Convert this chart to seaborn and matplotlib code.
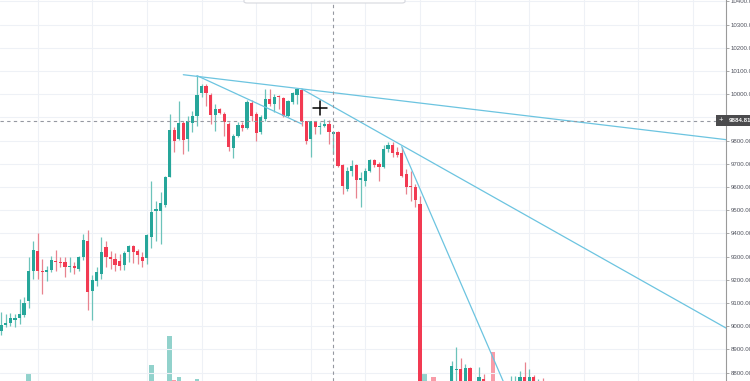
import matplotlib
matplotlib.use("Agg")
import numpy as np
import pandas as pd
import matplotlib.pyplot as plt
import seaborn as sns
from matplotlib.patches import Rectangle, FancyBboxPatch
from matplotlib.lines import Line2D

# -------------------------------------------------------
# Data (one candle per slot)
# None = candle sits fully below the visible price range
# -------------------------------------------------------
opens = [8981, 9006, 9014, 9027, 9035, 9050, 9107, 9236, 9326, 9239,
         9232, 9242, 9283, 9278, 9278, 9254, 9259, 9245, 9297, 9369,
         9153, 9196, 9225, 9340, 9297, 9288, 9281, 9265, 9318, 9346,
         9326, 9300, 9294, 9383, 9495, 9498, 9524, 9645, 9847, 9807,
         9878, 9807, 9878, 9908, 10004, 10036, 9998, 9911, 9936, 9915,
         9872, 9768, 9822, 9869, 9855, 9963, 9915, 9839, 9894, 9980,
         9958, 9994, 9984, 9908, 9965, 9998, 10020, 9883, 9807, 9879,
         9858, 9865, 9872, 9829, 9836, 9697, 9592, 9671, 9697, 9630,
         9628, 9671, 9717, 9700, 9685, 9764, 9781, 9750, 9745, 9656,
         9606, 9602, 9527, None, None, None, None, None, None, 8740,
         8813, 8815, 8740, 8822, None, 8740, 8772, None, None, None,
         None, None, 8700, 8700, 8740, 8782, 8740, 8782, 8740, 8750]
highs = [9060, 9052, 9057, 9052, 9117, 9124, 9297, 9366, 9400, 9290,
         9261, 9304, 9329, 9297, 9297, 9297, 9275, 9304, 9398, 9415,
         9222, 9257, 9383, 9366, 9323, 9317, 9311, 9326, 9350, 9348,
         9333, 9318, 9398, 9628, 9541, 9577, 9649, 9915, 9857, 9972,
         9886, 9908, 9929, 10080, 10046, 10046, 10004, 9958, 9940, 9922,
         9879, 9829, 9879, 9879, 9975, 9973, 9922, 9912, 10023, 10023,
         10001, 9998, 9987, 9975, 10009, 10027, 10023, 9886, 9886, 9886,
         9879, 9894, 9889, 9843, 9843, 9700, 9685, 9717, 9700, 9664,
         9682, 9721, 9721, 9707, 9779, 9793, 9793, 9771, 9774, 9678,
         9671, 9613, 9563, None, None, None, None, None, None, 8851,
         8912, 8863, 8837, 8826, None, 8825, 8794, None, None, None,
         None, None, 8786, 8786, 8805, 8844, 8815, 8790, 8772, 8776]
lows = [8963, 8998, 9002, 8998, 9009, 9038, 9078, 9203, 9203, 9139,
        9196, 9232, 9239, 9254, 9213, 9232, 9225, 9239, 9285, 9070,
        9027, 9175, 9203, 9254, 9247, 9239, 9242, 9242, 9275, 9271,
        9268, 9254, 9268, 9339, 9369, 9354, 9512, 9642, 9750, 9803,
        9742, 9757, 9836, 9865, 9990, 9951, 9872, 9843, 9915, 9822,
        9757, 9725, 9814, 9843, 9850, 9886, 9800, 9829, 9886, 9951,
        9922, 9937, 9901, 9901, 9958, 9958, 9865, 9786, 9731, 9829,
        9829, 9858, 9786, 9743, 9685, 9570, 9584, 9649, 9553, 9515,
        9606, 9664, 9685, 9628, 9682, 9750, 9728, 9728, 9642, 9570,
        9541, 9513, 8650, None, None, None, None, None, None, 8700,
        8765, 8700, 8700, 8700, None, 8700, 8700, None, None, None,
        None, None, 8690, 8690, 8700, 8700, 8700, 8700, 8700, 8700]
closes = [9006, 9012, 9034, 9035, 9052, 9100, 9239, 9328, 9236, 9232,
          9244, 9285, 9275, 9271, 9254, 9261, 9249, 9300, 9372, 9146,
          9199, 9235, 9318, 9297, 9288, 9265, 9261, 9314, 9347, 9318,
          9306, 9283, 9392, 9494, 9504, 9530, 9642, 9847, 9800, 9878,
          9804, 9886, 9908, 9998, 10036, 10004, 9911, 9936, 9919, 9879,
          9771, 9822, 9869, 9855, 9965, 9905, 9833, 9901, 9980, 9958,
          9990, 9987, 9908, 9970, 10004, 10023, 9886, 9800, 9883, 9857,
          9865, 9872, 9836, 9836, 9692, 9606, 9668, 9691, 9630, 9637,
          9671, 9717, 9697, 9688, 9764, 9781, 9746, 9740, 9649, 9599,
          9602, 9544, 8730, None, None, None, None, None, None, 8830,
          8815, 8740, 8822, 8740, None, 8782, 8740, None, None, None,
          None, None, 8755, 8755, 8782, 8740, 8782, 8740, 8750, 8740]

# only the volume bars whose tops reach into the visible area
vol_idx = [6, 33, 37, 38, 39, 43, 93, 95, 108]
vol_val = [2170, 2320, 2900, 2020, 2080, 2040, 2140, 2080, 2580]
vol_up = [True, True, True, False, True, True, True, False, False]

# drawn trend lines: (x1, p1), (x2, p2), extend right?
trend_lines = [
    ((40, 10084), (66, 10023), True),
    ((43, 10080), (66, 9872), False),
    ((66, 10023), (86, 9802), True),
    ((88, 9774), (100, 9230), True),
]

price_ticks = list(range(8800, 10401, 100))
day_marks = list(range(8, 160, 12))
cross_idx = 73
cross_price = 9884.81

UP = "#26a69a"
DOWN = "#f23a52"
UP_WICK = "#6cc3ba"
DOWN_WICK = "#e8838f"
LINE = "#6cc4e0"

W, H = 750, 381

sns.set_theme(style="white")
plt.rcParams["font.family"] = ["Liberation Sans", "DejaVu Sans"]

df = pd.DataFrame({"open": opens, "high": highs, "low": lows, "close": closes}, dtype=float)
df["idx"] = np.arange(len(df))
df = df.dropna()
up = df["close"] >= df["open"]

fig = plt.figure(figsize=(W / 100, H / 100), dpi=100)
fig.patch.set_facecolor("white")
ax = fig.add_axes([0, 0, 726 / W, 1])
axv = ax.twinx()
ax.set_zorder(axv.get_zorder() + 1)
ax.patch.set_visible(False)

# ---- volume overlay ----
axv.bar(vol_idx, vol_val, width=0.95,
        color=[UP if u else DOWN for u in vol_up], alpha=0.5, linewidth=0)
axv.set_ylim(2000, 9620)
axv.set_yticks([])
for s in axv.spines.values():
    s.set_visible(False)

# ---- candles ----
ax.vlines(df["idx"], df["low"], df["high"],
          colors=np.where(up, UP_WICK, DOWN_WICK), linewidth=0.9, zorder=3)
body_lo = np.minimum(df["open"], df["close"])
body_h = np.maximum((df["close"] - df["open"]).abs(), 4)
ax.bar(df["idx"], body_h, bottom=body_lo, width=0.7,
       color=np.where(up, UP, DOWN), linewidth=0, zorder=4)

# ---- trend lines ----
for (x1, p1), (x2, p2), ext in trend_lines:
    if ext:
        xe = 200
        pe = p1 + (p2 - p1) / (x2 - x1) * (xe - x1)
    else:
        xe, pe = x2, p2
    sns.lineplot(x=[x1, xe], y=[p1, pe], color=LINE, linewidth=0.9,
                 ax=ax, estimator=None, sort=False, zorder=5)

# ---- crosshair ----
ax.axhline(cross_price, color="#9598a1", linewidth=0.8, dashes=(3, 3), zorder=6)
ax.axvline(cross_idx, color="#9598a1", linewidth=0.8, dashes=(3, 3), zorder=6)

# ---- axes ----
ax.set_xlim(-0.286, 159.27)
ax.set_ylim(8764, 10406)
ax.set_xticks(day_marks)
ax.set_xticklabels([])
ax.set_yticks(price_ticks)
# the 9900 label sits under the crosshair price tag
ax.set_yticklabels(["" if p == 9900 else f"{p:.2f}" for p in price_ticks])
ax.yaxis.tick_right()
ax.tick_params(axis="x", length=0)
ax.tick_params(axis="y", length=2.2, width=0.6, color="#9a9a9a",
               labelsize=4.4, labelcolor="#50535e", pad=1.2)
ax.grid(True, color="#eef1f6", linewidth=0.8)
for name, s in ax.spines.items():
    s.set_visible(name == "right")
ax.spines["right"].set_color("#9a9a9a")
ax.spines["right"].set_linewidth(0.8)
ax.set_xlabel("")
ax.set_ylabel("")

# ---- crosshair price label on the axis ----
yb = 1 - 126 / H
fig.add_artist(Rectangle((716 / W, yb), 34 / W, 11 / H, transform=fig.transFigure,
                         facecolor="#4b4b4d", edgecolor="none", zorder=10))
fig.text(721 / W, 1 - 120.5 / H, "+", color="white", fontsize=5.5,
         ha="center", va="center", zorder=11)
fig.text(729 / W, 1 - 120.5 / H, f"{cross_price:.2f}", color="white", fontsize=4.4,
         fontweight="bold", ha="left", va="center", zorder=11)

# ---- mouse cursor ----
cx, cy = 320, 108
fig.add_artist(Line2D([(cx - 7) / W, (cx + 7) / W], [1 - cy / H] * 2,
                      transform=fig.transFigure, color="black", linewidth=1.1, zorder=12))
fig.add_artist(Line2D([cx / W] * 2, [1 - (cy - 7) / H, 1 - (cy + 7) / H],
                      transform=fig.transFigure, color="black", linewidth=1.1, zorder=12))

# ---- toolbar edge at the top ----
fig.add_artist(FancyBboxPatch((244 / W, 1 - 3 / H), 161 / W, 10 / H,
                              boxstyle="round,pad=0,rounding_size=0.004",
                              transform=fig.transFigure, facecolor="white",
                              edgecolor="#d6d8de", linewidth=0.8, zorder=9))

fig.savefig("out.png", dpi=100)
